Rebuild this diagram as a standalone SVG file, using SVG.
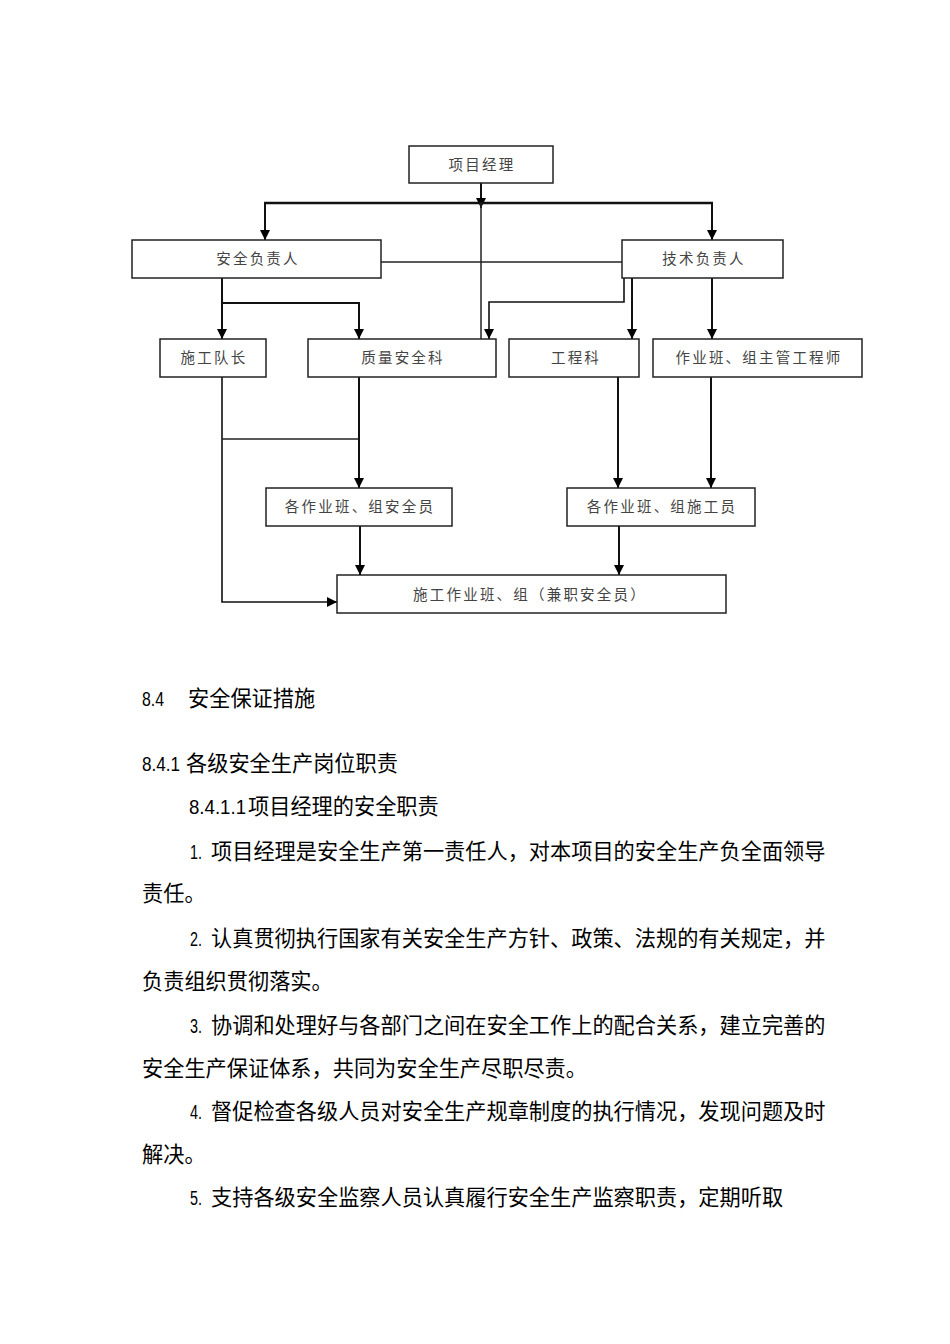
<svg xmlns="http://www.w3.org/2000/svg" width="950" height="1344" viewBox="0 0 950 1344">
<style>
.box{fill:#fff;stroke:#222;stroke-width:1.5}
.bt{font-family:"Noto Sans CJK SC","Noto Sans CJK TC",sans-serif;font-size:14.5px;letter-spacing:2.2px;fill:#444;text-anchor:middle}
.c{fill:none;stroke:#111;stroke-width:2}
.t{fill:none;stroke:#222;stroke-width:1.3}
.a{marker-end:url(#arr)}
.body{font-family:"Noto Sans CJK SC","Noto Sans CJK TC",sans-serif;font-size:21.2px;fill:#000}
.num{font-family:"Liberation Sans","Noto Sans CJK SC",sans-serif;font-size:20px;fill:#000}
</style>
<defs>
<marker id="arr" markerUnits="userSpaceOnUse" markerWidth="11" markerHeight="11" refX="10" refY="5.5" orient="auto">
<path d="M0,0.5 L10,5.5 L0,10.5 z" fill="#000"/>
</marker>
</defs>
<rect width="950" height="1344" fill="#fff"/>

<g id="connectors">
<line class="c a" x1="481" y1="183" x2="481" y2="208"/>
<line class="c" x1="264" y1="203" x2="713" y2="203" style="stroke-width:2.5"/>
<line class="c a" x1="265" y1="203" x2="265" y2="240"/>
<line class="c a" x1="712" y1="203" x2="712" y2="240"/>
<line class="t" x1="481" y1="203" x2="481" y2="339" style="stroke-width:1.5"/>
<line class="t" x1="381" y1="262" x2="622" y2="262"/>
<line class="c a" x1="222" y1="278" x2="222" y2="339"/>
<polyline class="c a" points="222,303 359,303 359,339"/>
<polyline class="c a" points="624,278 624,302 489,302 489,339" style="stroke-width:1.6"/>
<line class="c a" x1="632" y1="278" x2="632" y2="339"/>
<line class="c a" x1="712" y1="278" x2="712" y2="339"/>
<polyline class="c a" points="222,377 222,602 337,602" style="stroke-width:1.6"/>
<line class="t" x1="222" y1="439" x2="359" y2="439"/>
<line class="c a" x1="359" y1="377" x2="359" y2="488"/>
<line class="c a" x1="360" y1="526" x2="360" y2="575"/>
<line class="c a" x1="618" y1="377" x2="618" y2="488"/>
<line class="c a" x1="711" y1="377" x2="711" y2="488"/>
<line class="c a" x1="619" y1="526" x2="619" y2="575"/>
</g>

<g id="n-pm"><rect class="box" x="409" y="146" width="144" height="37"/><text class="bt" x="482" y="170">项目经理</text></g>
<g id="n-safety-head"><rect class="box" x="132" y="240" width="249" height="38"/><text class="bt" x="258" y="264">安全负责人</text></g>
<g id="n-tech-head"><rect class="box" x="622" y="240" width="161" height="38"/><text class="bt" x="704" y="264">技术负责人</text></g>
<g id="n-captain"><rect class="box" x="160" y="339" width="106" height="38"/><text class="bt" x="214" y="363">施工队长</text></g>
<g id="n-quality"><rect class="box" x="308" y="339" width="188" height="38"/><text class="bt" x="403" y="363">质量安全科</text></g>
<g id="n-eng"><rect class="box" x="509" y="339" width="130" height="38"/><text class="bt" x="576" y="363">工程科</text></g>
<g id="n-chief-eng"><rect class="box" x="653" y="339" width="209" height="38"/><text class="bt" x="759" y="363">作业班、组主管工程师</text></g>
<g id="n-safety-officer"><rect class="box" x="266" y="488" width="186" height="38"/><text class="bt" x="360" y="512">各作业班、组安全员</text></g>
<g id="n-constructor"><rect class="box" x="567" y="488" width="188" height="38"/><text class="bt" x="662" y="512">各作业班、组施工员</text></g>
<g id="n-team"><rect class="box" x="337" y="575" width="389" height="38"/><text class="bt" x="530" y="600">施工作业班、组（兼职安全员）</text></g>

<g id="body">
<text class="num" x="142" y="706" textLength="22" lengthAdjust="spacingAndGlyphs">8.4</text><text class="body" x="188" y="706">安全保证措施</text>
<text class="num" x="142" y="771" textLength="38" lengthAdjust="spacingAndGlyphs">8.4.1</text><text class="body" x="186" y="771">各级安全生产岗位职责</text>
<text class="num" x="189" y="814" textLength="57" lengthAdjust="spacingAndGlyphs">8.4.1.1</text><text class="body" x="248" y="814">项目经理的安全职责</text>
<text class="num" x="190" y="859" textLength="12" lengthAdjust="spacingAndGlyphs">1.</text><text class="body" x="211" y="859">项目经理是安全生产第一责任人，对本项目的安全生产负全面领导</text>
<text class="body" x="142" y="901">责任。</text>
<text class="num" x="190" y="946" textLength="12" lengthAdjust="spacingAndGlyphs">2.</text><text class="body" x="211" y="946">认真贯彻执行国家有关安全生产方针、政策、法规的有关规定，并</text>
<text class="body" x="142" y="989">负责组织贯彻落实。</text>
<text class="num" x="190" y="1033" textLength="12" lengthAdjust="spacingAndGlyphs">3.</text><text class="body" x="211" y="1033">协调和处理好与各部门之间在安全工作上的配合关系，建立完善的</text>
<text class="body" x="142" y="1076">安全生产保证体系，共同为安全生产尽职尽责。</text>
<text class="num" x="190" y="1119" textLength="12" lengthAdjust="spacingAndGlyphs">4.</text><text class="body" x="211" y="1119">督促检查各级人员对安全生产规章制度的执行情况，发现问题及时</text>
<text class="body" x="142" y="1162">解决。</text>
<text class="num" x="190" y="1205" textLength="12" lengthAdjust="spacingAndGlyphs">5.</text><text class="body" x="211" y="1205">支持各级安全监察人员认真履行安全生产监察职责，定期听取</text>
</g>
</svg>
